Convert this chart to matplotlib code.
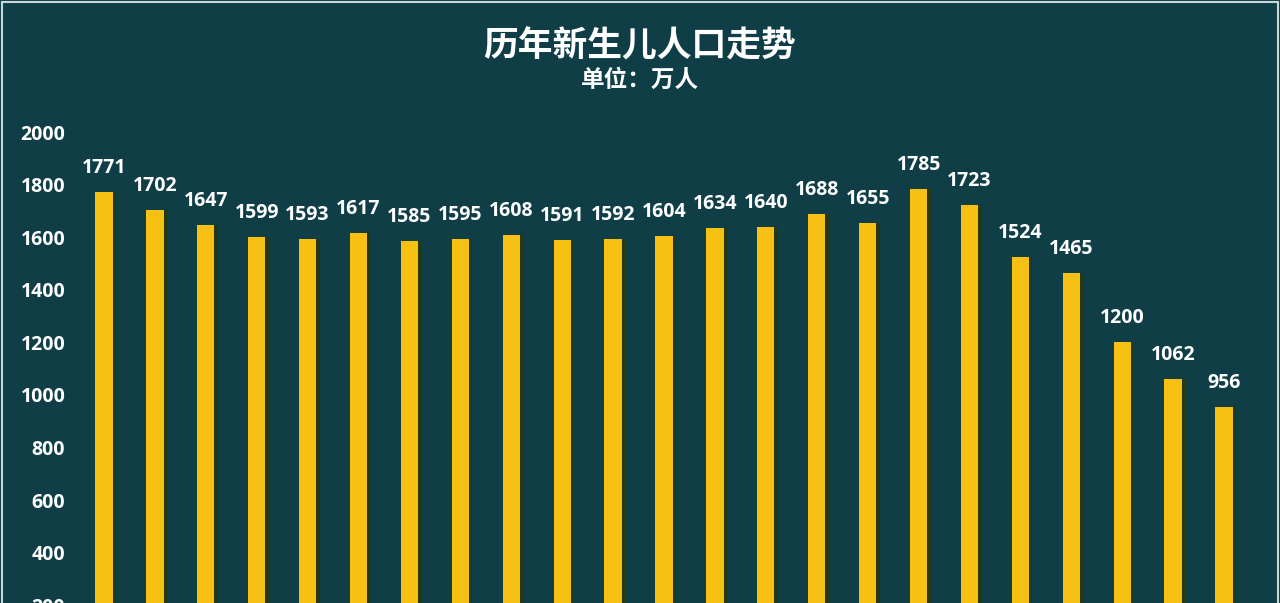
import matplotlib
matplotlib.use("Agg")
import matplotlib.pyplot as plt
from matplotlib.patches import Rectangle

years = list(range(2000, 2023))
births = [1771, 1702, 1647, 1599, 1593, 1617, 1585, 1595, 1608, 1591, 1592,
          1604, 1634, 1640, 1688, 1655, 1785, 1723, 1524, 1465, 1200, 1062, 956]
yticks = [0, 200, 400, 600, 800, 1000, 1200, 1400, 1600, 1800, 2000]

title = "历年新生儿人口走势"
subtitle = "单位：万人"

bg = "#0f3e47"
bar_c = "#f6c112"
shadow_c = "#263810"

W, H = 1280, 603
fig = plt.figure(figsize=(W / 100, H / 100), dpi=100, facecolor=bg)

# axes pixel geometry: y=2000 at 133px, y=0 at 659px (below figure bottom)
left_px, right_px = 78.5, 1249.5
top_px, zero_px = 132, 658
ax = fig.add_axes([left_px / W, (H - zero_px) / H, (right_px - left_px) / W,
                   (zero_px - top_px) / H])
ax.set_facecolor(bg)

x = list(range(len(years)))
ax.bar([i + 0.06 for i in x], births, width=0.35, color=shadow_c, zorder=2)
ax.bar(x, births, width=0.34, color=bar_c, zorder=3)

for i, v in zip(x, births):
    ax.annotate(str(v), (i, v), xytext=(0, 19), textcoords="offset pixels",
                ha="center", va="baseline", color="white", fontsize=14,
                fontweight="bold", family=["Open Sans", "DejaVu Sans"],
                annotation_clip=False, zorder=4)

ax.set_xlim(-0.5, len(years) - 0.5)
ax.set_ylim(0, 2000)
ax.set_yticks(yticks)
ax.set_yticklabels([str(t) for t in yticks])
ax.set_xticks([])
for s in ax.spines.values():
    s.set_visible(False)
ax.tick_params(axis="y", length=0, pad=9.5, labelcolor="white", labelsize=14)
for lab in ax.get_yticklabels():
    lab.set_fontweight("bold")
    lab.set_family(["Open Sans", "DejaVu Sans"])

fig.text(0.5, 1 - 46 / H, title, ha="center", va="center", color="white",
         fontsize=25, fontweight="bold",
         family=["Noto Sans CJK SC", "DejaVu Sans"])
fig.text(0.5, 1 - 80 / H, subtitle, ha="center", va="center", color="white",
         fontsize=17, fontweight="bold",
         family=["Noto Sans CJK SC", "DejaVu Sans"])

# thin light frame from the screenshot
fig.patches.append(Rectangle((1.5 / W, -0.01), 1 - 4 / W, 1 - 1.5 / H + 0.01,
                             transform=fig.transFigure, fill=False,
                             edgecolor="#c9d6d8", linewidth=1.5))

fig.savefig("out.png", dpi=100, facecolor=bg)
